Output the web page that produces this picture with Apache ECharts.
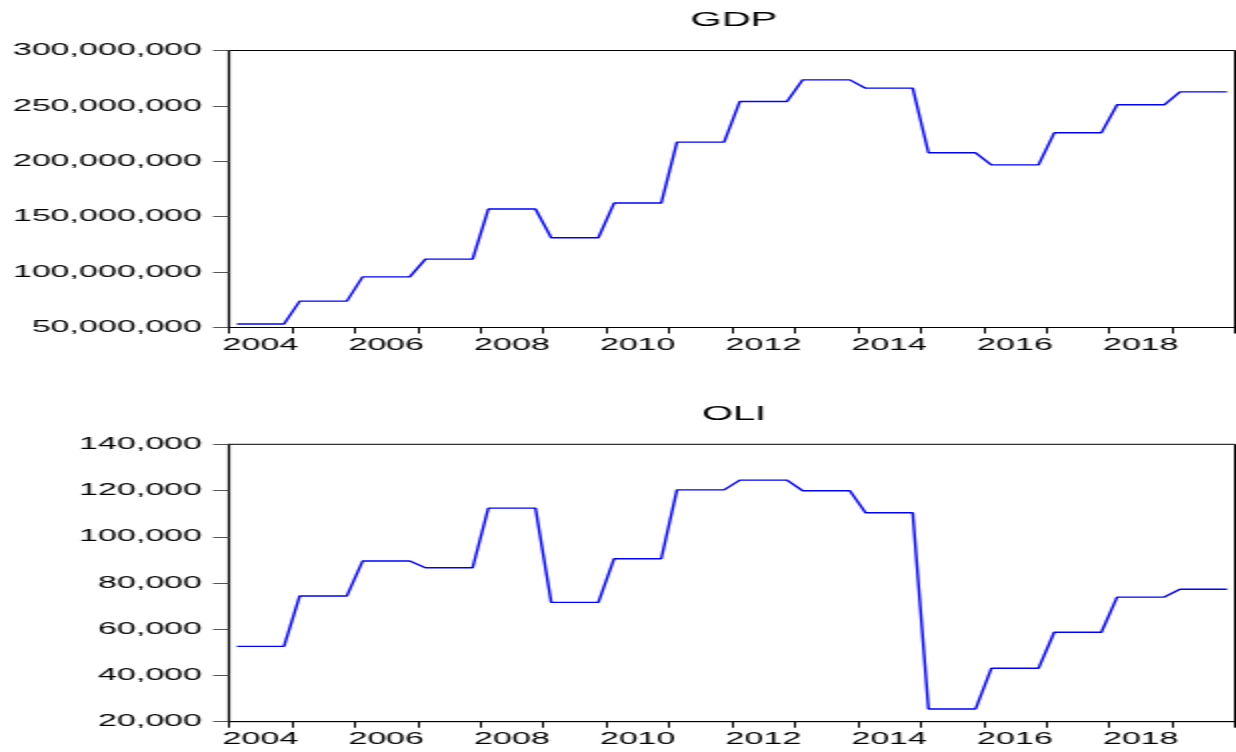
<!DOCTYPE html>
<html>
<head>
<meta charset="utf-8">
<script src="https://cdn.jsdelivr.net/npm/echarts@6/dist/echarts.min.js"></script>
<style>
html,body{margin:0;padding:0;background:#fff;overflow:hidden;}
#wrap{width:1236px;height:752px;overflow:hidden;}
#chart{width:618px;height:752px;transform:scaleX(2);transform-origin:0 0;}
</style>
</head>
<body>
<div id="wrap"><div id="chart"></div></div>
<script>
// Quarterly periods 2004Q1 .. 2019Q4
const quarters = [
  '2004Q1','2004Q2','2004Q3','2004Q4','2005Q1','2005Q2','2005Q3','2005Q4',
  '2006Q1','2006Q2','2006Q3','2006Q4','2007Q1','2007Q2','2007Q3','2007Q4',
  '2008Q1','2008Q2','2008Q3','2008Q4','2009Q1','2009Q2','2009Q3','2009Q4',
  '2010Q1','2010Q2','2010Q3','2010Q4','2011Q1','2011Q2','2011Q3','2011Q4',
  '2012Q1','2012Q2','2012Q3','2012Q4','2013Q1','2013Q2','2013Q3','2013Q4',
  '2014Q1','2014Q2','2014Q3','2014Q4','2015Q1','2015Q2','2015Q3','2015Q4',
  '2016Q1','2016Q2','2016Q3','2016Q4','2017Q1','2017Q2','2017Q3','2017Q4',
  '2018Q1','2018Q2','2018Q3','2018Q4','2019Q1','2019Q2','2019Q3','2019Q4'
];
const gdp = [
  53200000,53200000,53200000,53200000,
  73800000,73800000,73800000,73800000,
  95700000,95700000,95700000,95700000,
  111700000,111700000,111700000,111700000,
  156900000,156900000,156900000,156900000,
  131000000,131000000,131000000,131000000,
  162300000,162300000,162300000,162300000,
  217300000,217300000,217300000,217300000,
  254000000,254000000,254000000,254000000,
  273500000,273500000,273500000,273500000,
  266000000,266000000,266000000,266000000,
  207700000,207700000,207700000,207700000,
  196800000,196800000,196800000,196800000,
  225700000,225700000,225700000,225700000,
  251000000,251000000,251000000,251000000,
  262700000,262700000,262700000,262700000
];
const oli = [
  52600,52600,52600,52600,
  74400,74400,74400,74400,
  89500,89500,89500,89500,
  86600,86600,86600,86600,
  112400,112400,112400,112400,
  71600,71600,71600,71600,
  90500,90500,90500,90500,
  120300,120300,120300,120300,
  124500,124500,124500,124500,
  119900,119900,119900,119900,
  110400,110400,110400,110400,
  25500,25500,25500,25500,
  43100,43100,43100,43100,
  58700,58700,58700,58700,
  73900,73900,73900,73900,
  77300,77300,77300,77300
];
const tickYears = [2004,2005,2006,2007,2008,2009,2010,2011,2012,2013,2014,2015,2016,2017,2018,2019,2020];
const labelYears = [2004,2006,2008,2010,2012,2014,2016,2018];
const titles = ['GDP','OLI'];

// position of each quarter on a continuous year scale (middle of the quarter)
const xPos = quarters.map(q => {
  const y = parseInt(q.slice(0,4),10), n = parseInt(q.slice(5),10);
  return y + (n - 0.5) / 4;
});
const fmt = v => String(Math.round(v)).replace(/\B(?=(\d{3})+(?!\d))/g, ',');
const FONT = '"Liberation Sans", Arial, Helvetica, sans-serif';

function xAxisCfg(gi){
  return {
    type:'value', gridIndex:gi, min:2004, max:2020,
    axisLine:{show:true, lineStyle:{color:'#000', width:1}},
    axisTick:{show:true, length:6, customValues:tickYears, lineStyle:{color:'#000', width:1}},
    axisLabel:{show:true, margin:9, fontSize:17, fontFamily:FONT, color:'#000',
      customValues:labelYears.map(y => y + 0.5),
      formatter:v => String(Math.floor(v))},
    splitLine:{show:false}
  };
}
function yAxisCfg(gi,min,max,interval){
  return {
    type:'value', gridIndex:gi, min:min, max:max, interval:interval,
    axisLine:{show:true, lineStyle:{color:'#000', width:1.2}},
    axisTick:{show:true, length:8, lineStyle:{color:'#555', width:1}},
    axisLabel:{show:true, margin:13.5, fontSize:17, fontFamily:FONT, color:'#000',
      showMinLabel:true, showMaxLabel:true, formatter:fmt},
    splitLine:{show:false}
  };
}

const chart = echarts.init(document.getElementById('chart'), null, {renderer:'canvas'});
chart.setOption({
  animation:false,
  backgroundColor:'#fff',
  title:[
    {text:titles[0], left:362, top:5, textAlign:'center',
     textStyle:{fontSize:20, fontWeight:'normal', fontFamily:FONT, color:'#000'}},
    {text:titles[1], left:362, top:399, textAlign:'center',
     textStyle:{fontSize:20, fontWeight:'normal', fontFamily:FONT, color:'#000'}}
  ],
  grid:[
    {left:114.5, right:0.5, top:50.5, height:277, show:true, borderColor:'#000', borderWidth:1, backgroundColor:'transparent', outerBoundsMode:'none'},
    {left:114.5, right:0.5, top:444.3, height:277.4, show:true, borderColor:'#000', borderWidth:1, backgroundColor:'transparent', outerBoundsMode:'none'}
  ],
  xAxis:[xAxisCfg(0), xAxisCfg(1)],
  yAxis:[yAxisCfg(0,50000000,300000000,50000000), yAxisCfg(1,20000,140000,20000)],
  series:[
    {type:'line', name:titles[0], xAxisIndex:0, yAxisIndex:0, symbol:'none',
     lineStyle:{color:'#0000ff', width:1.4}, data:quarters.map((q,i)=>[xPos[i], gdp[i]])},
    {type:'line', name:titles[1], xAxisIndex:1, yAxisIndex:1, symbol:'none',
     lineStyle:{color:'#0000ff', width:1.4}, data:quarters.map((q,i)=>[xPos[i], oli[i]])}
  ]
});
</script>
</body>
</html>
